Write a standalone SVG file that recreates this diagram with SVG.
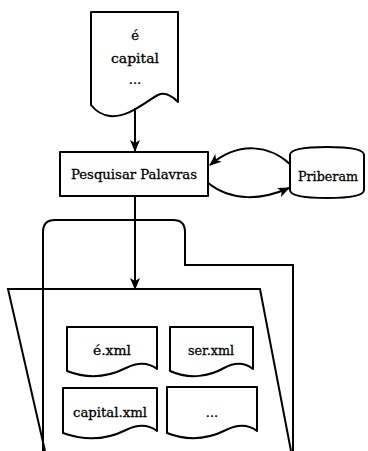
<svg xmlns="http://www.w3.org/2000/svg" width="368" height="451" viewBox="0 0 368 451">
  <style>
    .shape { fill: #fff; stroke: #000; stroke-width: 2; stroke-linejoin: round; }
    .line { fill: none; stroke: #000; stroke-width: 2; }
    text { font-family: 'DejaVu Serif', 'Liberation Serif', serif; font-size: 13px; fill: #000; stroke: #000; stroke-width: 0.3; text-anchor: middle; }
  </style>
  <defs>
    <marker id="arrow" viewBox="0 0 12 10" refX="11" refY="5" markerWidth="12" markerHeight="10" markerUnits="userSpaceOnUse" orient="auto">
      <path d="M0,0 L12,5 L0,10 L3,5 Z" fill="#000"/>
    </marker>
  </defs>

  <!-- storage tray containing the word files -->
  <g id="tray">
    <path class="line" d="M43,451 V232 Q43,220 55,220 H173 Q185,220 185,232 V265 H293 V451"/>
    <path class="line" d="M45,451 L8,289 H260 L291,451"/>
  </g>

  <!-- input document -->
  <g id="input">
    <path class="shape" d="M91,12 H178 V102 C170,94 164,92 158,95 C145,102 128,118 110,116 C100,115 95,110 91,105 Z"/>
    <text x="135" y="40">é</text>
    <text x="135" y="63" textLength="48" lengthAdjust="spacingAndGlyphs">capital</text>
    <text x="135" y="84">...</text>
  </g>

  <!-- search process -->
  <g id="search">
    <rect class="shape" x="60" y="152" width="148" height="44"/>
    <text x="134" y="179" textLength="126" lengthAdjust="spacingAndGlyphs">Pesquisar Palavras</text>
  </g>

  <!-- dictionary store -->
  <g id="priberam">
    <path class="shape" d="M290,155 Q290,147 327,147 Q364,147 364,155 V190 Q364,198 327,198 Q290,198 290,190 Z"/>
    <text x="328" y="181" textLength="60" lengthAdjust="spacingAndGlyphs">Priberam</text>
  </g>

  <!-- word files -->
  <g id="file-e">
    <path class="shape" d="M67,327 H157 V369 C148,362 138,362 126,368 C110,376 90,380 67,371 Z"/>
    <text x="112" y="355" textLength="38" lengthAdjust="spacingAndGlyphs">é.xml</text>
  </g>
  <g id="file-ser">
    <path class="shape" d="M170,327 H253 V369 C244,362 235,362 224,368 C210,376 190,380 170,371 Z"/>
    <text x="211" y="355" textLength="46" lengthAdjust="spacingAndGlyphs">ser.xml</text>
  </g>
  <g id="file-capital">
    <path class="shape" d="M63,388 H157 V431 C148,424 138,424 126,430 C110,438 88,442 63,433 Z"/>
    <text x="110" y="417" textLength="74" lengthAdjust="spacingAndGlyphs">capital.xml</text>
  </g>
  <g id="file-more">
    <path class="shape" d="M167,387 H257 V431 C248,424 238,424 226,430 C210,438 190,442 167,433 Z"/>
    <text x="212" y="417">...</text>
  </g>

  <!-- connectors -->
  <g id="connectors">
    <path class="line" d="M135,108 V151" marker-end="url(#arrow)"/>
    <path class="line" d="M135,196 V289" marker-end="url(#arrow)"/>
    <path class="line" d="M290,164 C270,146 240,140 210,165" marker-end="url(#arrow)"/>
    <path class="line" d="M208,183 C232,202 262,200 289,188" marker-end="url(#arrow)"/>
  </g>
</svg>
